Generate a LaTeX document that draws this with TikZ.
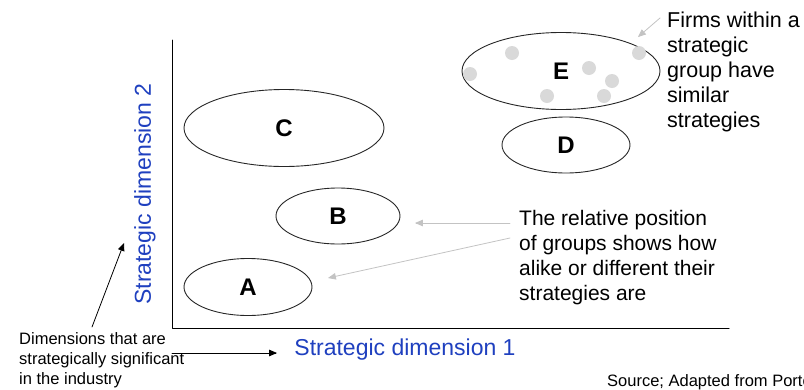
\documentclass[tikz,border=0pt]{standalone}
\usepackage{fontspec}
\setmainfont{Liberation Sans}
\usetikzlibrary{arrows,shapes.geometric}
\definecolor{dimblue}{RGB}{31,64,191}
\definecolor{dotgray}{RGB}{217,217,217}
\definecolor{notegray}{RGB}{195,195,195}

\begin{document}
\begin{tikzpicture}[line cap=round,line join=round,>=triangle 45,x=1pt,y=-1pt,
  group/.style={draw=black!85,line width=0.9pt,ellipse,inner sep=0pt,font=\fontsize{24}{24}\selectfont\bfseries},
  note/.style={anchor=west,align=left,inner sep=0pt,font=\fontsize{21.5}{25}\selectfont},
  small/.style={anchor=west,align=left,inner sep=0pt,font=\fontsize{16.5}{20}\selectfont},
  axislabel/.style={text=dimblue,inner sep=0pt,font=\fontsize{23}{23}\selectfont},
  pointer/.style={->,draw=notegray,line width=0.8pt}]
\useasboundingbox (0,0) rectangle (804,389);
\clip (0,0) rectangle (804,389);
% axes
\coordinate (top) at (172,40);
\coordinate (origin) at (172,328);
\coordinate (xend) at (729,328);
\draw [line width=1pt] (top) -- (origin) -- (xend);
\node[axislabel,rotate=90] (ydim) at (145,194) {Strategic dimension 2};
\node[axislabel] (xdim) at (405,350) {Strategic dimension 1};
% strategic groups
\node[group,minimum width=200pt,minimum height=77pt] (C) at (284,128) {C};
\node[group,minimum width=124pt,minimum height=56pt] (B) at (338,216) {B};
\node[group,minimum width=128pt,minimum height=57pt] (A) at (248,287) {A};
\node[group,minimum width=198pt,minimum height=77pt] (E) at (561,71) {E};
\node[group,minimum width=128pt,minimum height=56pt] (D) at (566,145) {D};
\foreach \p in {(512,53),(470,74),(589,68),(612,81),(547,96),(604,96),(639,53)}
  \fill [dotgray] \p circle (7pt);
% notes
\node[note] (firms) at (667,72) {Firms within a\\strategic\\group have\\similar\\strategies};
\node[note,font=\fontsize{21}{25}\selectfont] (relpos) at (519,258) {The relative position\\of groups shows how\\alike or different their\\strategies are};
\node[small] (dims) at (19,360) {Dimensions that are\\strategically significant\\in the industry};
\node[small] (source) at (607,382) {Source; Adapted from Porter};
\coordinate (firmsfrom) at (660,18);
\coordinate (firmsto) at (638,37);
\coordinate (relfromB) at (510,223);
\coordinate (reltoB) at (415,223);
\coordinate (relfromA) at (510,238);
\coordinate (reltoA) at (328,278);
\coordinate (dimsright) at (172,353);
\coordinate (dimsxto) at (277,353);
\coordinate (dimsup) at (92,327);
\coordinate (dimsyto) at (124,243);
\draw [pointer] (firmsfrom) -- (firmsto);
\draw [pointer] (relfromB) -- (reltoB);
\draw [pointer] (relfromA) -- (reltoA);
\draw [->,line width=0.8pt] (dimsright) -- (dimsxto);
\draw [->,line width=0.8pt] (dimsup) -- (dimsyto);
\end{tikzpicture}
\end{document}
